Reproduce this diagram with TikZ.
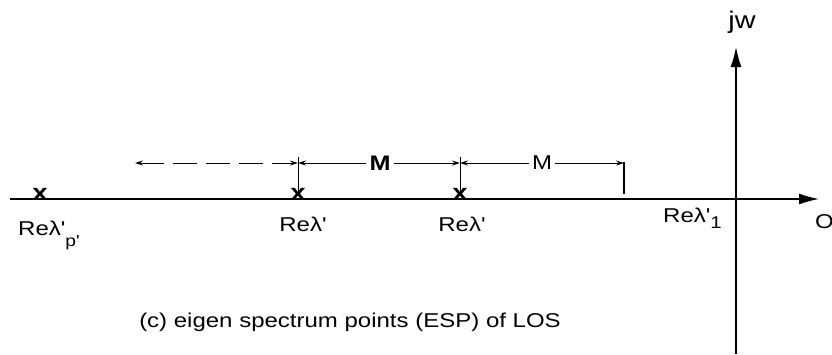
\documentclass[tikz,border=0pt]{standalone}
\usepackage{fontspec}
\setmainfont[FakeStretch=1.2,Ligatures=TeXOff]{Liberation Sans}
\usetikzlibrary{arrows.meta}
\begin{document}
\begin{tikzpicture}[x=1pt,y=-1pt,
  lab/.style={font=\fontsize{20}{22}\selectfont, inner sep=0pt},
  eig/.style={font=\fontsize{23}{25}\selectfont\bfseries, inner sep=0pt},
  mlab/.style={font=\fontsize{21}{23}\selectfont\bfseries, inner sep=3pt},
  ax/.style={line width=1.4pt,-{Latex[length=20pt,width=11pt]}},
  dim/.style={line width=1pt,-{Stealth[length=8pt,width=5pt]}},
  dimboth/.style={line width=1pt,{Stealth[length=8pt,width=5pt]}-{Stealth[length=8pt,width=5pt]}},
  tickline/.style={line width=1.4pt}]
\useasboundingbox (0,0) rectangle (832,354);
% axes
\coordinate (hl) at (10,199);
\coordinate (hr) at (819,199);
\coordinate (vb) at (736,354);
\coordinate (vt) at (736,47);
\draw[ax] (hl) -- (hr);
\draw[ax] (vb) -- (vt);
% eigen points
\node[eig,anchor=base] (x1) at (40,200) {x};
\node[eig,anchor=base] (x2) at (298,200) {x};
\node[eig,anchor=base] (x3) at (460,200) {x};
\coordinate (t2) at (298,157);
\coordinate (t3) at (460,157);
\draw[line width=1pt] (t2) -- (x2.center);
\draw[line width=1pt] (t3) -- (x3.center);
% tick
\coordinate (k1) at (624,162);
\coordinate (k2) at (624,194);
\draw[tickline] (k1) -- (k2);
% dimension lines
\coordinate (d0) at (135,163);
\coordinate (d1) at (298,163);
\coordinate (d2) at (460,163);
\coordinate (d3) at (624,163);
\draw[dimboth,dash pattern=on 24pt off 9pt] (d0) -- (d1);
\node[mlab] (m1) at (380,163) {M};
\node[lab,inner sep=3pt] (m2) at (542,163) {M};
\draw[dim] (m1.west) -- (d1);
\draw[dim] (m1.east) -- (d2);
\draw[dim] (m2.west) -- (d2);
\draw[dim] (m2.east) -- (d3);
% labels
\node[lab,anchor=base west] (l1) at (18,235) {Reλ'\raisebox{-11pt}{\fontsize{16}{16}\selectfont p'}};
\node[lab,anchor=base] (l2) at (303,231) {Reλ'};
\node[lab,anchor=base] (l3) at (462,231) {Reλ'};
\node[lab,anchor=base west] (l4) at (663,222) {Reλ'\raisebox{-6pt}{\fontsize{17}{17}\selectfont 1}};
\node[lab,anchor=base,font=\fontsize{24}{26}\selectfont] (jw) at (742,28) {jw};
\node[lab,anchor=base west] (o) at (815,228) {O};
\node[lab,anchor=base] (cap) at (350,327) {(c) eigen spectrum points (ESP) of LOS};
\end{tikzpicture}
\end{document}
